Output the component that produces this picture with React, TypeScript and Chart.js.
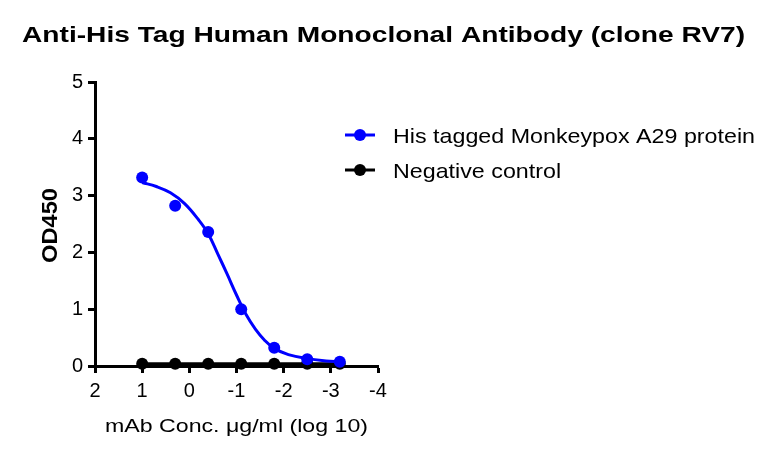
import React, { useEffect, useRef } from "react";
import { Chart, registerables } from "chart.js";

Chart.register(...registerables);

// ---------- data ----------
const chartTitle = "Anti-His Tag Human Monoclonal Antibody (clone RV7)";
const xAxisTitle = "mAb Conc. \u03bcg/ml (log 10)";
const yAxisTitle = "OD450";
const seriesNames = ["His tagged Monkeypox A29 protein", "Negative control"];

const logConc = [1, 0.3, -0.4, -1.1, -1.8, -2.5, -3.19];
const a29OD = [3.32, 2.82, 2.36, 1.0, 0.32, 0.12, 0.075];
const negativeOD = [0.04, 0.04, 0.04, 0.04, 0.04, 0.04, 0.04];

// fitted curve
const fitLogConc = [1.0, 0.7, 0.4, 0.1, -0.2, -0.4, -0.6, -0.8, -1.0, -1.2, -1.4, -1.6, -1.8, -2.1, -2.5, -2.9, -3.19];
const fitOD = [3.23, 3.16, 3.05, 2.86, 2.57, 2.33, 1.98, 1.62, 1.25, 0.91, 0.65, 0.45, 0.31, 0.2, 0.13, 0.09, 0.075];

const xTicks = [2, 1, 0, -1, -2, -3, -4];
const yTicks = [0, 1, 2, 3, 4, 5];

// ---------- styles ----------
const FONT = "Arial, 'Liberation Sans', Helvetica, sans-serif";
const BLUE = "#0000ff";
const BLACK = "#000000";

function drawStretched(
  ctx: CanvasRenderingContext2D,
  text: string,
  x: number,
  y: number,
  font: string,
  sx: number,
  align: CanvasTextAlign
) {
  ctx.save();
  ctx.font = font;
  ctx.fillStyle = BLACK;
  ctx.textAlign = align;
  ctx.textBaseline = "alphabetic";
  ctx.translate(x, y);
  ctx.scale(sx, 1);
  ctx.fillText(text, 0, 0);
  ctx.restore();
}

function widthScale(ctx: CanvasRenderingContext2D, text: string, font: string, target: number) {
  ctx.save();
  ctx.font = font;
  const w = ctx.measureText(text).width;
  ctx.restore();
  return target / w;
}

const textPlugin = {
  id: "textPlugin",
  afterDraw(chart: any) {
    const ctx: CanvasRenderingContext2D = chart.ctx;
    const area = chart.chartArea;

    // title
    const tFont = `bold 22px ${FONT}`;
    drawStretched(ctx, chartTitle, 383.5, 42, tFont, widthScale(ctx, chartTitle, tFont, 723), "center");

    // x axis title
    const xFont = `19px ${FONT}`;
    drawStretched(ctx, xAxisTitle, (area.left + area.right) / 2, 432, xFont, widthScale(ctx, xAxisTitle, xFont, 263), "center");

    // y axis title
    const yFont = `bold 22px ${FONT}`;
    ctx.save();
    ctx.translate(57, (area.top + area.bottom) / 2 + 1.5);
    ctx.rotate(-Math.PI / 2);
    drawStretched(ctx, yAxisTitle, 0, 0, yFont, widthScale(ctx, yAxisTitle, yFont, 75), "center");
    ctx.restore();

    // legend
    const lFont = `21px ${FONT}`;
    const lScale = widthScale(ctx, seriesNames[0], lFont, 362);
    const items = [
      { name: seriesNames[0], color: BLUE },
      { name: seriesNames[1], color: BLACK },
    ];
    const lx = area.right - 33;
    items.forEach((it, i) => {
      const cy = area.top + 53 + i * 35;
      ctx.save();
      ctx.strokeStyle = it.color;
      ctx.lineWidth = 3;
      ctx.beginPath();
      ctx.moveTo(lx, cy);
      ctx.lineTo(lx + 30, cy);
      ctx.stroke();
      ctx.fillStyle = it.color;
      ctx.beginPath();
      ctx.arc(lx + 15, cy, 6, 0, Math.PI * 2);
      ctx.fill();
      ctx.restore();
      drawStretched(ctx, it.name, lx + 48, cy + 8, lFont, lScale, "left");
    });
  },
};

export default function App() {
  const ref = useRef<HTMLCanvasElement | null>(null);

  useEffect(() => {
    if (!ref.current) return;
    const chart = new Chart(ref.current, {
      type: "scatter",
      data: {
        datasets: [
          {
            label: seriesNames[0],
            data: logConc.map((x, i) => ({ x, y: a29OD[i] })),
            showLine: false,
            pointRadius: 6,
            pointHoverRadius: 6,
            pointBackgroundColor: BLUE,
            pointBorderWidth: 0,
            borderColor: BLUE,
            backgroundColor: BLUE,
            clip: false,
          },
          {
            label: "fit",
            data: fitLogConc.map((x, i) => ({ x, y: fitOD[i] })),
            showLine: true,
            pointRadius: 0,
            borderColor: BLUE,
            borderWidth: 3,
            tension: 0.4,
            clip: false,
          },
          {
            label: seriesNames[1],
            data: logConc.map((x, i) => ({ x, y: negativeOD[i] })),
            showLine: true,
            pointRadius: 6,
            pointHoverRadius: 6,
            pointBackgroundColor: BLACK,
            pointBorderWidth: 0,
            borderColor: BLACK,
            backgroundColor: BLACK,
            borderWidth: 3,
            clip: false,
          },
        ],
      } as any,
      options: {
        animation: false,
        responsive: false,
        devicePixelRatio: 1,
        layout: { padding: { top: 82, right: 399, bottom: 0, left: 0 } },
        plugins: {
          legend: { display: false },
          title: { display: false },
          tooltip: { enabled: false },
        },
        scales: {
          x: {
            type: "linear",
            min: -4,
            max: 2,
            reverse: true,
            afterBuildTicks: (s: any) => {
              s.ticks = xTicks.map((v) => ({ value: v }));
            },
            afterFit: (s: any) => {
              s.height = 91;
            },
            border: { display: true, color: BLACK, width: 3 },
            grid: {
              display: true,
              drawOnChartArea: false,
              drawTicks: true,
              tickLength: 7,
              tickWidth: 3,
              tickColor: BLACK,
            },
            ticks: {
              color: BLACK,
              font: { family: FONT, size: 20 },
              padding: 6,
              maxRotation: 0,
              autoSkip: false,
              callback: (v: any) => String(v),
            },
          },
          y: {
            type: "linear",
            min: 0,
            max: 5,
            afterBuildTicks: (s: any) => {
              s.ticks = yTicks.map((v) => ({ value: v }));
            },
            afterFit: (s: any) => {
              s.width = 95;
            },
            border: { display: true, color: BLACK, width: 3 },
            grid: {
              display: true,
              drawOnChartArea: false,
              drawTicks: true,
              tickLength: 7,
              tickWidth: 3,
              tickColor: BLACK,
            },
            ticks: {
              color: BLACK,
              font: { family: FONT, size: 20 },
              padding: 5,
              autoSkip: false,
              callback: (v: any) => String(v),
            },
          },
        },
      } as any,
      plugins: [textPlugin],
    });
    return () => chart.destroy();
  }, []);

  return (
    <div style={{ position: "absolute", left: 0, top: 0, width: 777, height: 457, background: "#fff" }}>
      <canvas ref={ref} width={777} height={457} style={{ display: "block", width: 777, height: 457 }} />
    </div>
  );
}
